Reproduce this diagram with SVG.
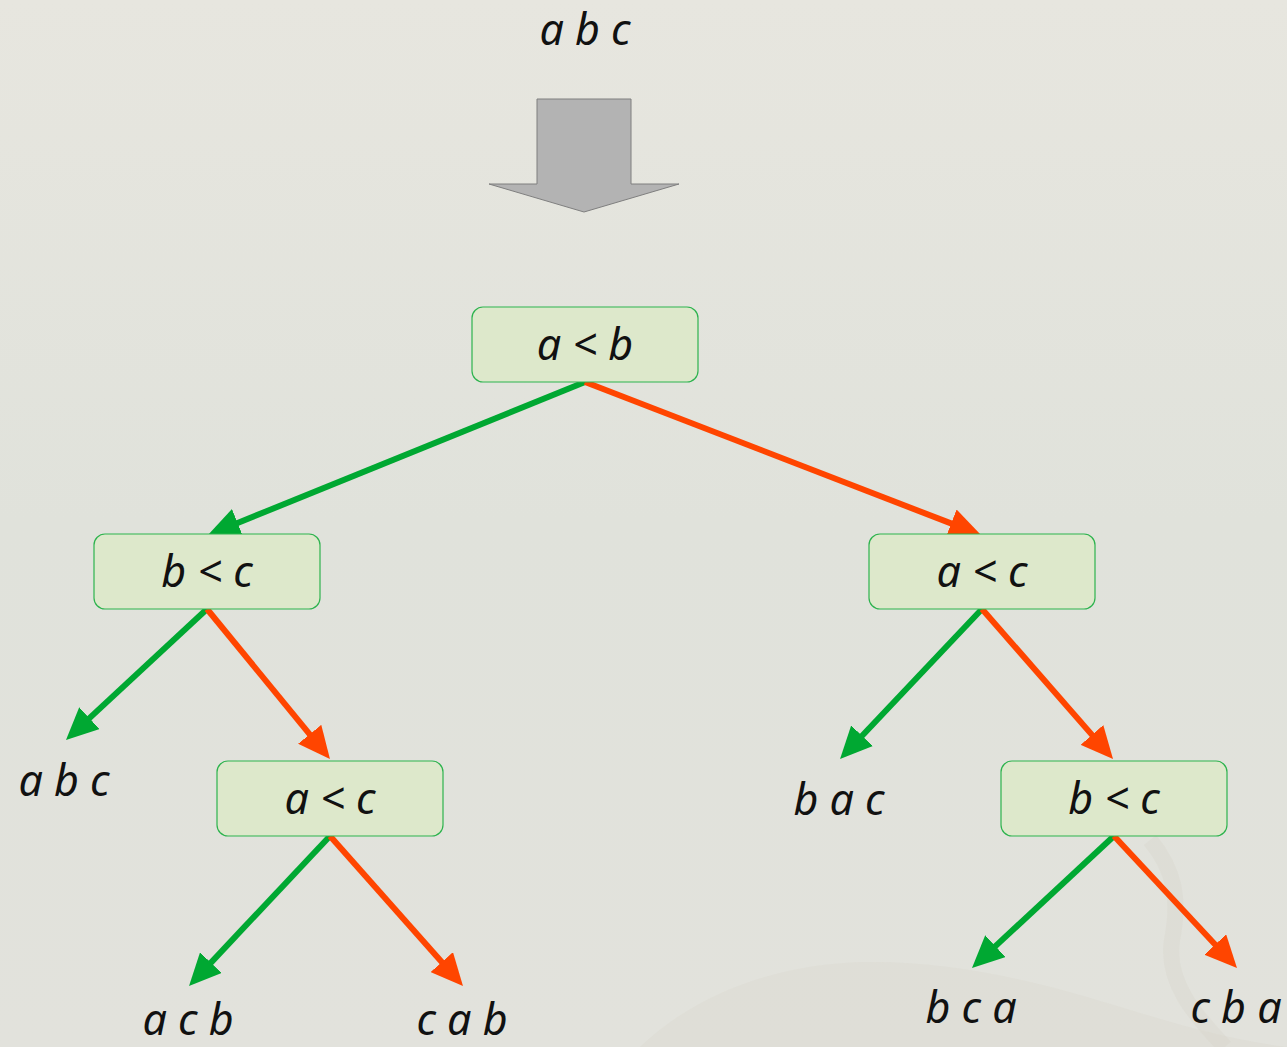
<svg xmlns="http://www.w3.org/2000/svg" width="1287" height="1047" viewBox="0 0 1287 1047">
<defs>
<linearGradient id="bg" x1="0" y1="0" x2="0" y2="1">
<stop offset="0" stop-color="#e7e6df"/>
<stop offset="0.5" stop-color="#e0e2db"/>
<stop offset="1" stop-color="#e2e2dc"/>
</linearGradient>
<marker id="ag" markerUnits="userSpaceOnUse" markerWidth="32" markerHeight="30" refX="4" refY="15" orient="auto"><path d="M0,0 L32,15 L0,30 z" fill="#00a832"/></marker>
<marker id="ar" markerUnits="userSpaceOnUse" markerWidth="32" markerHeight="30" refX="4" refY="15" orient="auto"><path d="M0,0 L32,15 L0,30 z" fill="#ff4500"/></marker>
<style>
.t{font-family:"Noto Sans","Open Sans","DejaVu Sans",sans-serif;font-style:italic;font-size:43px;fill:#111;text-anchor:middle}
.n rect{fill:#dde8cb;stroke:#2db34e;stroke-width:1.2}
.g{stroke:#00a832;stroke-width:6;fill:none;marker-end:url(#ag)}
.r{stroke:#ff4500;stroke-width:6;fill:none;marker-end:url(#ar)}
</style>
</defs>
<rect width="1287" height="1047" fill="url(#bg)"/>
<path d="M640,1047 C700,990 780,965 860,962 C960,960 1050,985 1130,1010 C1180,1025 1230,1040 1287,1047 Z" fill="#d6d3c8" opacity="0.25"/>
<path d="M1150,840 C1175,870 1180,900 1172,940 C1165,985 1200,1020 1225,1047" stroke="#d3cfc3" stroke-width="16" fill="none" opacity="0.25"/>

<g id="start">
<text class="t" x="585" y="45">a b c</text>
<path d="M537,99 H631 V184 H679 L584,212 L489,184 H537 Z" fill="#b3b3b3" stroke="#7f7f7f" stroke-width="1"/>
</g>

<g id="connectors">
<line class="g" x1="585" y1="382" x2="233.9" y2="524.5"/>
<line class="r" x1="585" y1="382" x2="954.9" y2="524.9"/>
<line class="g" x1="207" y1="609" x2="86.5" y2="720.9"/>
<line class="r" x1="207" y1="609" x2="312.2" y2="737.4"/>
<line class="g" x1="982" y1="609" x2="859.3" y2="738.7"/>
<line class="r" x1="982" y1="609" x2="1094.6" y2="737.9"/>
<line class="g" x1="330" y1="836" x2="208.2" y2="965.6"/>
<line class="r" x1="330" y1="836" x2="444.4" y2="965.1"/>
<line class="g" x1="1114" y1="836" x2="992.5" y2="948.9"/>
<line class="r" x1="1114" y1="836" x2="1217.9" y2="947.5"/>
</g>

<g id="n1" class="n"><rect x="472" y="307" width="226" height="75" rx="11"/><text class="t" x="585" y="360">a &lt; b</text></g>
<g id="n2" class="n"><rect x="94" y="534" width="226" height="75" rx="11"/><text class="t" x="207" y="587">b &lt; c</text></g>
<g id="n3" class="n"><rect x="869" y="534" width="226" height="75" rx="11"/><text class="t" x="982" y="587">a &lt; c</text></g>
<g id="n4" class="n"><rect x="217" y="761" width="226" height="75" rx="11"/><text class="t" x="330" y="814">a &lt; c</text></g>
<g id="n5" class="n"><rect x="1001" y="761" width="226" height="75" rx="11"/><text class="t" x="1114" y="814">b &lt; c</text></g>

<g id="leaf1"><text class="t" x="64" y="796">a b c</text></g>
<g id="leaf2"><text class="t" x="839" y="815">b a c</text></g>
<g id="leaf3"><text class="t" x="188" y="1035">a c b</text></g>
<g id="leaf4"><text class="t" x="462" y="1035">c a b</text></g>
<g id="leaf5"><text class="t" x="971" y="1023">b c a</text></g>
<g id="leaf6"><text class="t" x="1236" y="1023">c b a</text></g>
</svg>
